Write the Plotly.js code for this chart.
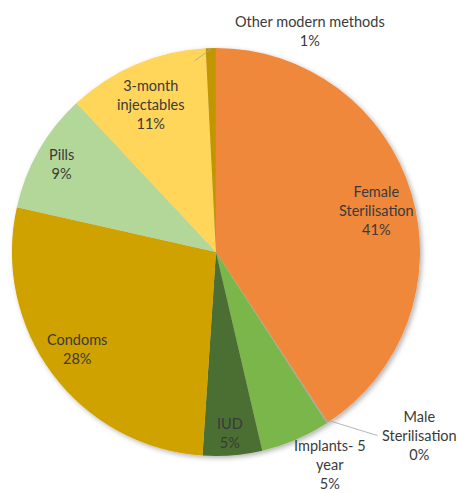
<!DOCTYPE html>
<html><head><meta charset="utf-8">
<script src="https://cdn.plot.ly/plotly-3.0.1.min.js"></script>
<style>html,body{margin:0;padding:0;background:#fff;}#chart{width:458px;height:493px;}</style>
</head><body><div id="chart"></div>
<script>
const categories = ["Female<br>Sterilisation", "Male<br>Sterilisation", "Implants- 5<br>year", "IUD", "Condoms", "Pills", "3-month<br>injectables", "Other modern methods"];
const values = [40.8, 0.1, 5.5, 4.7, 27.5, 9.5, 11.2, 0.8];
const percentLabels = ["41%", "0%", "5%", "5%", "28%", "9%", "11%", "1%"];
const colors = ["#F0883B", "#A5A5A5", "#7AB648", "#4C6E33", "#CFA200", "#B3D699", "#FFD55A", "#C29600"];

// label placement (paper coords, centre of text block) and optional leader line offsets (px)
const labelX = [0.823, 0.917, 0.72, 0.502, 0.168, 0.135, 0.33, 0.677];
const labelY = [0.574, 0.117, 0.057, 0.122, 0.292, 0.667, 0.789, 0.937];
const leaderAX = [null, -52, null, null, null, null, null, 18];
const leaderAY = [null, -16, null, null, null, null, null, -13];

const font = {family: "Lato, 'Open Sans', sans-serif", size: 14.5, color: "#3A3A3A"};

const trace = {
  type: "pie",
  labels: categories,
  values: values,
  textinfo: "none",
  sort: false,
  direction: "clockwise",
  rotation: 0,
  marker: {colors: colors, line: {width: 0}},
  hoverinfo: "none",
  showlegend: false,
  automargin: false,
  domain: {x: [0.026, 0.917], y: [0.075, 0.903]}
};

const annotations = [];
categories.forEach((c, i) => {
  annotations.push({
    xref: "paper", yref: "paper", x: labelX[i], y: labelY[i],
    xanchor: "center", yanchor: "middle", align: "center",
    text: c + "<br>" + percentLabels[i], showarrow: false, font: font
  });
});
// leader lines for small outside slices
const lineStartX = {1: 0.714, 7: 0.461};
const lineStartY = {1: 0.148, 7: 0.901};
[1, 7].forEach(i => {
  annotations.push({
    xref: "paper", yref: "paper", x: lineStartX[i], y: lineStartY[i],
    ax: leaderAX[i] * -1, ay: leaderAY[i] * -1, text: "",
    showarrow: true, arrowhead: 0, arrowwidth: 0.8, arrowcolor: "#A6A6A6"
  });
});

const layout = {
  width: 458, height: 493,
  margin: {l: 0, r: 0, t: 0, b: 0},
  paper_bgcolor: "#fff",
  showlegend: false,
  annotations: annotations
};
Plotly.newPlot("chart", [trace], layout, {staticPlot: true}).then(gd => {
  const NS = "http://www.w3.org/2000/svg";
  const svg = gd.querySelector("svg.main-svg");
  let defs = svg.querySelector("defs");
  if (!defs) { defs = document.createElementNS(NS, "defs"); svg.insertBefore(defs, svg.firstChild); }
  const f = document.createElementNS(NS, "filter");
  f.setAttribute("id", "pieShadow");
  f.setAttribute("x", "-10%"); f.setAttribute("y", "-10%");
  f.setAttribute("width", "120%"); f.setAttribute("height", "120%");
  const ds = document.createElementNS(NS, "feDropShadow");
  ds.setAttribute("dx", "2"); ds.setAttribute("dy", "2");
  ds.setAttribute("stdDeviation", "2.5");
  ds.setAttribute("flood-color", "#000"); ds.setAttribute("flood-opacity", "0.3");
  f.appendChild(ds); defs.appendChild(f);
  const pl = gd.querySelector("g.pielayer");
  if (pl) pl.setAttribute("filter", "url(#pieShadow)");
});
</script></body></html>
